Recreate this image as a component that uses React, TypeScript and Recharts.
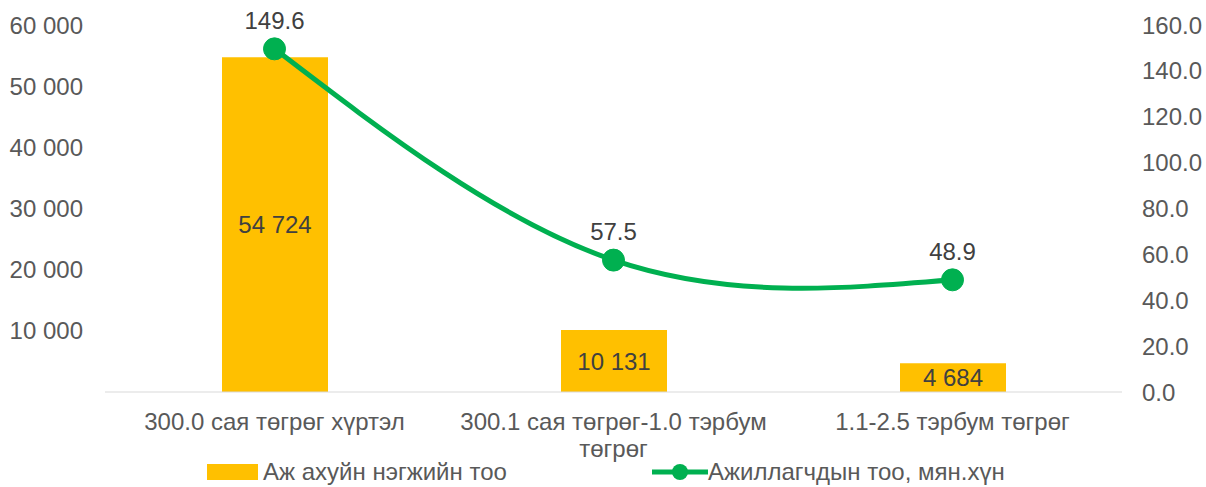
import { ComposedChart, Bar, Line, XAxis, YAxis, Legend, LabelList } from 'recharts';

const categories = ['300.0 сая төгрөг хүртэл', '300.1 сая төгрөг-1.0 тэрбум төгрөг', '1.1-2.5 тэрбум төгрөг'];
const enterprises = [54724, 10131, 4684];
const employees = [149.6, 57.5, 48.9];
const leftTicks = [10000, 20000, 30000, 40000, 50000, 60000];
const rightTicks = [0, 20, 40, 60, 80, 100, 120, 140, 160];

const barName = 'Аж ахуйн нэгжийн тоо';
const lineName = 'Ажиллагчдын тоо, мян.хүн';

const data = categories.map((c, i) => ({ category: c, units: enterprises[i], workers: employees[i] }));

const FONT = '"Liberation Sans", Arial, sans-serif';
const BAR_COLOR = '#FFC000';
const LINE_COLOR = '#00B050';

const spaced = (v: number) => String(Math.round(v)).replace(/\B(?=(\d{3})+(?!\d))/g, ' ');

// greedy word wrap, measured on a canvas
function wrap(text: string, maxWidth: number): string[] {
  const ctx = document.createElement('canvas').getContext('2d');
  if (!ctx) return [text];
  ctx.font = `24px ${FONT}`;
  const lines: string[] = [];
  let cur = '';
  for (const w of text.split(' ')) {
    const next = cur ? `${cur} ${w}` : w;
    if (cur && ctx.measureText(next).width > maxWidth) {
      lines.push(cur);
      cur = w;
    } else {
      cur = next;
    }
  }
  if (cur) lines.push(cur);
  return lines;
}

function CategoryTick({ x, y, payload }: any) {
  const lines = wrap(payload.value, 330);
  return (
    <text x={x} y={y + 30} textAnchor="middle" fontSize={24} fontFamily={FONT} fill="#595959">
      {lines.map((l, i) => (
        <tspan key={i} x={x} dy={i === 0 ? 0 : 27}>
          {l}
        </tspan>
      ))}
    </text>
  );
}

function LegendContent() {
  return (
    <div style={{ display: 'flex', alignItems: 'center', height: 30, paddingLeft: 207, fontFamily: FONT, fontSize: 24, color: '#595959' }}>
      <div style={{ display: 'flex', alignItems: 'center', width: 445 }}>
        <span style={{ display: 'inline-block', width: 51, height: 16, background: BAR_COLOR, marginRight: 5 }} />
        {barName}
      </div>
      <div style={{ display: 'flex', alignItems: 'center' }}>
        <svg width={56} height={20}>
          <line x1={0} y1={10} x2={56} y2={10} stroke={LINE_COLOR} strokeWidth={5} />
          <circle cx={28} cy={10} r={8} fill={LINE_COLOR} />
        </svg>
        {lineName}
      </div>
    </div>
  );
}

export default function App() {
  return (
    <div style={{ position: 'absolute', left: 0, top: 0, background: '#fff' }}>
      <ComposedChart width={1206} height={487} data={data} margin={{ top: 25, right: 0, bottom: 0, left: 0 }}>
        <XAxis
          dataKey="category"
          tick={<CategoryTick />}
          tickLine={false}
          axisLine={{ stroke: '#d9d9d9', strokeWidth: 1 }}
          height={65}
          interval={0}
        />
        <YAxis
          yAxisId="left"
          width={105}
          domain={[0, 60000]}
          ticks={leftTicks}
          tickFormatter={spaced}
          axisLine={false}
          tickLine={false}
          tickMargin={16}
          tick={{ fill: '#595959', fontSize: 24, fontFamily: FONT }}
        />
        <YAxis
          yAxisId="right"
          orientation="right"
          width={84}
          domain={[0, 160]}
          ticks={rightTicks}
          tickFormatter={(v: number) => v.toFixed(1)}
          axisLine={false}
          tickLine={false}
          tickMargin={14}
          tick={{ fill: '#595959', fontSize: 24, fontFamily: FONT, textAnchor: 'start' }}
        />
        <Legend verticalAlign="bottom" content={<LegendContent />} wrapperStyle={{ left: 0, width: 1206, height: 30 }} />
        <Bar yAxisId="left" dataKey="units" name={barName} fill={BAR_COLOR} barSize={106} isAnimationActive={false}>
          <LabelList dataKey="units" position="center" formatter={(v: any) => spaced(Number(v))} fill="#404040" fontSize={24} fontFamily={FONT} />
        </Bar>
        <Line
          yAxisId="right"
          type="natural"
          dataKey="workers"
          name={lineName}
          stroke={LINE_COLOR}
          strokeWidth={5}
          dot={{ r: 11, fill: LINE_COLOR, stroke: LINE_COLOR, strokeWidth: 1 }}
          activeDot={false}
          isAnimationActive={false}
        >
          <LabelList dataKey="workers" position="top" offset={20} formatter={(v: any) => Number(v).toFixed(1)} fill="#404040" fontSize={24} fontFamily={FONT} />
        </Line>
      </ComposedChart>
    </div>
  );
}
